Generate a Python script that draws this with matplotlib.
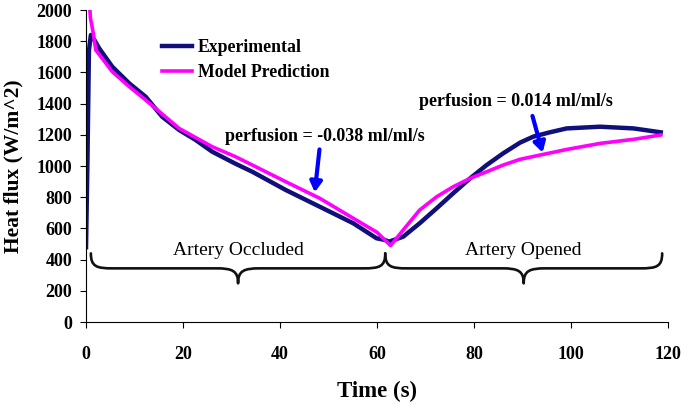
import matplotlib
matplotlib.use("Agg")
import matplotlib.pyplot as plt
from matplotlib.path import Path
from matplotlib.patches import PathPatch

# data
exp_t = [0, 0.3, 0.6, 1.0, 1.5, 2.7, 5.4, 8.9, 12.3, 15.7, 19.2, 22.6, 26, 30.8,
         34.3, 41.2, 48.2, 55.1, 59.9, 61.6, 62.5, 65.4, 68.8, 72.3, 75.7, 79.2,
         82.6, 86, 89.5, 92.2, 95.5, 99.1, 106, 112.9, 118.5]
exp_q = [480, 1050, 1740, 1840, 1820, 1755, 1637, 1530, 1444, 1316, 1231, 1167, 1092, 1015,
         963, 846, 739, 633, 537, 526, 515, 547, 633, 729, 825, 921,
         1006, 1081, 1150, 1188, 1215, 1241, 1252, 1241, 1216]

mod_t = [0.6, 0.9, 1.5, 2, 5.4, 8.9, 12.3, 19.2, 26, 30.8, 34.3, 41.2, 48.2, 55.1,
         60, 62.8, 65.4, 68.8, 72.3, 75.7, 79.2, 82.6, 86, 89.5, 94.2, 99.1, 106,
         112.9, 118.5]
mod_q = [2100, 1950, 1850, 1744, 1605, 1509, 1423, 1241, 1124, 1060, 1006, 899, 793, 665,
         575, 490, 590, 718, 803, 867, 921, 963, 1006, 1043, 1074, 1106, 1145,
         1171, 1199]

phases = ["Artery Occluded", "Artery Opened"]
phase_start = [1.0, 61.7]
phase_end = [61.7, 118.8]

notes = ["perfusion = -0.038 ml/ml/s", "perfusion = 0.014 ml/ml/s"]
note_xy = [(49.3, 1192), (88.7, 1412)]
arrow_from = [(48.2, 1124), (91.9, 1338)]
arrow_to = [(47.1, 814), (94.3, 1069)]

serif = ["Liberation Serif", "DejaVu Serif"]
plt.rcParams["font.family"] = serif

fig = plt.figure(figsize=(6.91, 4.07), dpi=100)
ax = fig.add_axes([0.1245, 0.2088, 0.8422, 0.7666])

ax.plot(exp_t, exp_q, color="#10107a", lw=3.2, label="Experimental", solid_joinstyle="round")
ax.plot(mod_t, mod_q, color="#ff00ff", lw=2.6, label="Model Prediction", solid_joinstyle="round")

ax.set_xlim(0, 120)
ax.set_ylim(0, 2000)
ax.set_xticks(range(0, 121, 20))
ax.set_yticks(range(0, 2001, 200))
for s in ["top", "right"]:
    ax.spines[s].set_visible(False)
ax.tick_params(axis="x", direction="out", length=4, pad=13, labelsize=13)
ax.tick_params(axis="y", direction="out", length=4, pad=6, labelsize=13)
for lbl in ax.get_xticklabels() + ax.get_yticklabels():
    lbl.set_fontweight("bold")

ax.set_xlabel("Time (s)", fontsize=16.5, fontweight="bold", labelpad=13)
ax.set_ylabel("Heat flux (W/m^2)", fontsize=15.5, fontweight="bold", labelpad=9)

leg = ax.legend(loc="upper left", bbox_to_anchor=(0.103, 0.958), frameon=False,
                handlelength=1.7, handletextpad=0.3, labelspacing=0.45,
                prop={"family": serif, "weight": "bold", "size": 12.8})

# curly braces marking the two phases
y_top, y_mid, y_tip = 440, 344, 248
for x0, x1, name in zip(phase_start, phase_end, phases):
    xm = (x0 + x1) / 2
    w = 4.5
    verts = [(x0, y_top), (x0, y_mid + 10), (x0 + 1.2, y_mid), (x0 + w, y_mid),
             (xm - w, y_mid),
             (xm - 1.2, y_mid), (xm, y_mid - 15), (xm, y_tip),
             (xm, y_mid - 15), (xm + 1.2, y_mid), (xm + w, y_mid),
             (x1 - w, y_mid),
             (x1 - 1.2, y_mid), (x1, y_mid + 10), (x1, y_top)]
    codes = [Path.MOVETO, Path.CURVE4, Path.CURVE4, Path.CURVE4,
             Path.LINETO,
             Path.CURVE4, Path.CURVE4, Path.CURVE4,
             Path.CURVE4, Path.CURVE4, Path.CURVE4,
             Path.LINETO,
             Path.CURVE4, Path.CURVE4, Path.CURVE4]
    ax.add_patch(PathPatch(Path(verts, codes), fill=False, lw=1.9, color="#111111",
                           capstyle="round", joinstyle="round"))
    ax.text(xm, 460, name, ha="center", va="center", fontsize=14)

for txt, xy, a, b in zip(notes, note_xy, arrow_from, arrow_to):
    ax.text(xy[0], xy[1], txt, ha="center", va="center", fontsize=13, fontweight="bold")
    ax.annotate("", xy=b, xytext=a,
                arrowprops=dict(arrowstyle="-|>,head_width=0.35,head_length=0.6",
                                color="#0000ff", lw=3))

fig.savefig("out.png", dpi=100)
